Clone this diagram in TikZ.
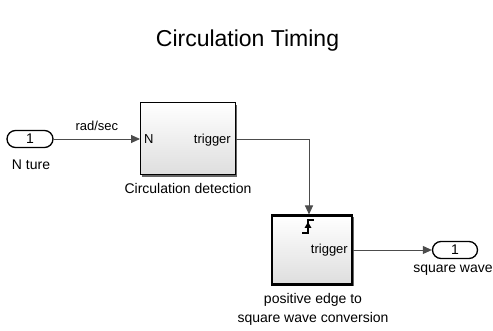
\documentclass[tikz,border=0pt]{standalone}
\usepackage{fontspec}
\setmainfont{Liberation Sans}
\usetikzlibrary{arrows.meta,shapes.misc,shadows}
\begin{document}
\begin{tikzpicture}[x=1pt,y=-1pt,
  wire/.style={draw=black!70,line width=0.9pt},
  arr/.style={wire,-{Triangle[length=9pt,width=8pt]}},
  blockbox/.style={draw=black,line width=1pt,top color=white,bottom color=black!13,
     drop shadow={shadow xshift=1.6pt,shadow yshift=-1.6pt,fill=black!60,opacity=1},
     inner sep=0pt},
  port/.style={draw=black,line width=1.3pt,rounded rectangle,fill=white,inner sep=0pt,
     font=\fontsize{14}{16}\selectfont},
  lbl/.style={inner sep=0pt,anchor=base,font=\fontsize{14}{16}\selectfont},
  small/.style={inner sep=0pt,anchor=base,font=\fontsize{13}{15}\selectfont}]
\useasboundingbox (0,0) rectangle (493,331);
% title
\node[inner sep=0pt,anchor=base,font=\fontsize{23}{26}\selectfont] (title) at (247.5,47) {Circulation Timing};
% inport
\node[port,minimum width=46pt,minimum height=17pt] (inp) at (30,139) {1};
\node[lbl] (inlbl) at (31,170) {N ture};
% block 1
\node[blockbox,minimum width=95pt,minimum height=72pt] (b1) at (188,139) {};
\node[small,anchor=base west] (b1n) at (144,144) {N};
\node[small,anchor=base east] (b1t) at (231,144) {trigger};
\node[lbl] (b1lbl) at (188,194) {Circulation detection};
% block 2
\node[blockbox,line width=2.6pt,minimum width=80pt,minimum height=69pt] (b2) at (312,250) {};
\node[small,anchor=base east] (b2t) at (348,254) {trigger};
\node[lbl] (b2l1) at (313,304) {positive edge to};
\node[lbl] (b2l2) at (313,323) {square wave conversion};
% trigger symbol
\draw[line width=1.2pt] (302,233) -- (308,233) -- (308,220) -- (314,220);
\fill (308,222) -- (304.5,228) -- (311.5,228) -- cycle;
% outport
\node[port,minimum width=45pt,minimum height=17pt] (outp) at (455,250) {1};
\node[lbl] (outlbl) at (453,273) {square wave};
% connectors
\coordinate (b2in) at (309,214.5);
\draw[arr] (inp.east) -- (b1.west) node[small,midway,above=8pt] (rs) {rad/sec};
\draw[arr] (b1.east) -| (b2in);
\draw[arr] (b2.east) -- (outp.west);
\end{tikzpicture}
\end{document}
